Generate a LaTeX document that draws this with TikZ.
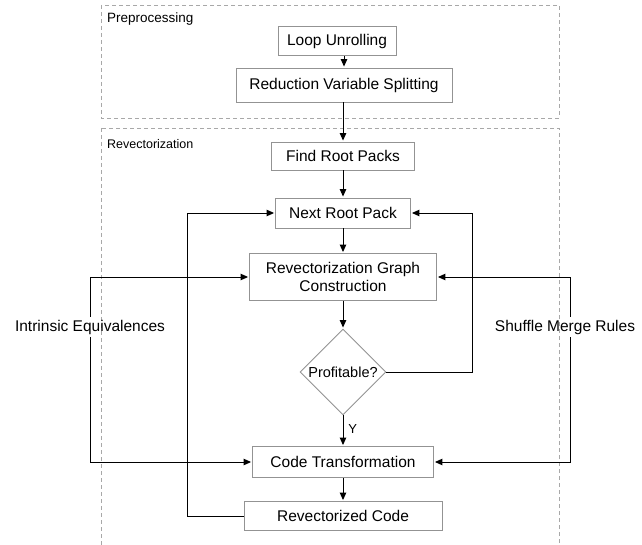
\documentclass[tikz,border=0pt]{standalone}
\usepackage{fontspec}
\setmainfont{Liberation Sans}
\usetikzlibrary{arrows.meta,shapes.geometric}
\definecolor{boxgray}{HTML}{939393}
\definecolor{dashgray}{HTML}{A8A8A8}
\tikzset{
  proc/.style={draw=boxgray, line width=0.9pt, fill=white, inner sep=0pt, align=center, font=\fontsize{15.5}{18.5}\selectfont},
  decide/.style={draw=boxgray, line width=0.9pt, fill=white, diamond, aspect=1, inner sep=0pt, minimum width=86pt, minimum height=86pt, font=\fontsize{14.5}{17}\selectfont},
  grouping/.style={draw=dashgray, line width=0.8pt, dash pattern=on 4pt off 3pt},
  grouplabel/.style={anchor=west, inner sep=0pt},
  sidetext/.style={inner sep=3pt, font=\fontsize{15.5}{18}\selectfont},
  arr/.style={draw=black, line width=0.95pt, shorten >=1pt, -{Triangle[length=7.5pt,width=6.5pt]}}
}
\begin{document}
\begin{tikzpicture}[x=1pt,y=-1pt]
\useasboundingbox (0,0) rectangle (642,545);
\clip (0,0) rectangle (642,545);
% group boxes
\draw[grouping] (101,5) rectangle (559,118);
\node[grouplabel, font=\fontsize{13.5}{16}\selectfont] (prelab) at (107,19) {Preprocessing};
\draw[grouping] (101,128) rectangle (559,600);
\node[grouplabel, font=\fontsize{12.5}{15}\selectfont] (revlab) at (107,144) {Revectorization};
% nodes
\node[proc, minimum width=118pt, minimum height=29pt] (LU) at (337,41) {Loop Unrolling};
\node[proc, minimum width=216pt, minimum height=34pt] (RVS) at (344,85) {Reduction Variable Splitting};
\node[proc, minimum width=143pt, minimum height=28pt] (FRP) at (343,156) {Find Root Packs};
\node[proc, minimum width=135pt, minimum height=30pt] (NRP) at (343,213) {Next Root Pack};
\node[proc, minimum width=187pt, minimum height=47pt] (RGC) at (343,277) {Revectorization Graph\\Construction};
\node[decide] (P) at (343,372) {Profitable?};
\node[proc, minimum width=181pt, minimum height=31pt] (CT) at (343,462) {Code Transformation};
\node[proc, minimum width=198pt, minimum height=29pt] (RC) at (343,516) {Revectorized Code};
\node[sidetext] (IE) at (90,327) {Intrinsic Equivalences};
\node[sidetext] (SMR) at (565,327) {Shuffle Merge Rules};
\coordinate (smx) at (570,327);
\coordinate (rloop) at (472,372);
\coordinate (lloop) at (187,516);
% connectors
\draw[arr] (RVS.north |- LU.south) -- (RVS.north);
\draw[arr] (RVS.south -| FRP.north) -- (FRP.north);
\draw[arr] (FRP) -- (NRP);
\draw[arr] (NRP) -- (RGC);
\draw[arr] (RGC) -- (P.north);
\draw[arr] (P.south) -- node[right, pos=0.45, inner sep=5pt, font=\fontsize{13}{15}\selectfont] {Y} (CT.north);
\draw[arr] (CT) -- (RC);
\draw[arr] (P.east) -- (rloop) |- (NRP.east);
\draw[arr] (RC.west) -- (lloop) |- (NRP.west);
\draw[arr] (IE.north) |- (RGC.west);
\draw[arr] (IE.south) |- (CT.west);
\draw[arr] (SMR.north -| smx) |- (RGC.east);
\draw[arr] (SMR.south -| smx) |- (CT.east);
\end{tikzpicture}
\end{document}
